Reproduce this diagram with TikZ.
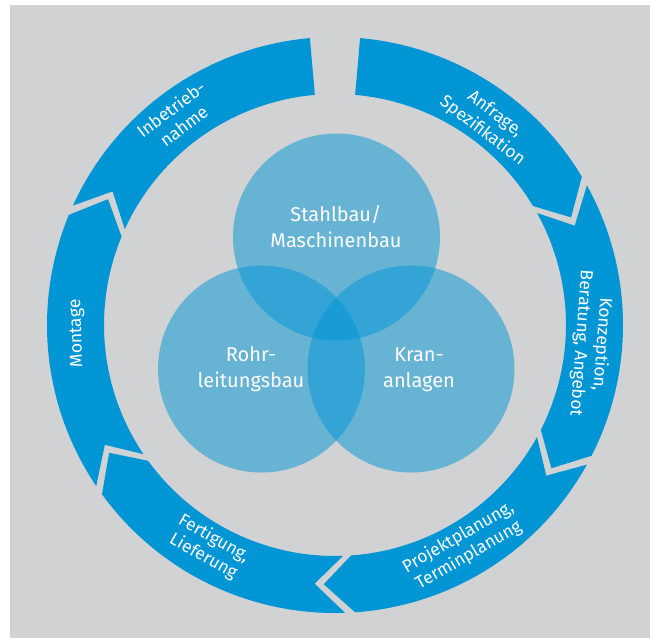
\documentclass[tikz,border=0pt]{standalone}
\usepackage{fontspec}
\setmainfont{Fira Sans}
\definecolor{ringblue}{RGB}{0,150,214}
\definecolor{bggray}{RGB}{208,210,211}

\begin{document}
\begin{tikzpicture}[
  seg/.style={fill=ringblue},
  field/.style={fill=ringblue, fill opacity=.5},
  ringlabel/.style={text=white, align=center, font=\fontsize{17.5}{21}\selectfont},
  fieldlabel/.style={text=white, align=center, font=\fontsize{20}{26}\selectfont}]
\useasboundingbox (-335pt,-313pt) rectangle (315pt,325pt);
\fill[bggray] (-325pt,-313pt) rectangle (315pt,320pt);
% ring, clockwise from the top
\fill[seg] (85:288pt) arc[start angle=85, end angle=31, radius=288pt] -- (24.5:259.5pt) -- (31:231pt) arc[start angle=31, end angle=85, radius=231pt] -- cycle;
\fill[seg] (29:288pt) arc[start angle=29, end angle=-27, radius=288pt] -- (-33.5:259.5pt) -- (-27:231pt) arc[start angle=-27, end angle=29, radius=231pt] -- (22.5:259.5pt) -- cycle;
\fill[seg] (-29:288pt) arc[start angle=-29, end angle=-86, radius=288pt] -- (-92.5:259.5pt) -- (-86:231pt) arc[start angle=-86, end angle=-29, radius=231pt] -- (-35.5:259.5pt) -- cycle;
\fill[seg] (-88:288pt) arc[start angle=-88, end angle=-144, radius=288pt] -- (-150.5:259.5pt) -- (-144:231pt) arc[start angle=-144, end angle=-88, radius=231pt] -- (-94.5:259.5pt) -- cycle;
\fill[seg] (-146:288pt) arc[start angle=-146, end angle=-202.5, radius=288pt] -- (-209:259.5pt) -- (-202.5:231pt) arc[start angle=-202.5, end angle=-146, radius=231pt] -- (-152.5:259.5pt) -- cycle;
\fill[seg] (-204.5:288pt) arc[start angle=-204.5, end angle=-265, radius=288pt] -- (-265:231pt) arc[start angle=-265, end angle=-204.5, radius=231pt] -- (-211:259.5pt) -- cycle;
% the three fields
\fill[field] (1.5pt,88pt) circle[radius=103.5pt];
\fill[field] (-73.5pt,-44pt) circle[radius=103.5pt];
\fill[field] (76pt,-44pt) circle[radius=103.5pt];
\node[fieldlabel] (stahl) at (1pt,98pt) {Stahlbau/\\Maschinenbau};
\node[fieldlabel] (rohr) at (-84pt,-44.5pt) {Rohr-\\leitungsbau};
\node[fieldlabel] (kran) at (84pt,-44.5pt) {Kran-\\anlagen};
% step labels
\node[ringlabel, rotate=-37.2] (anfrage) at (52.8:254pt) {Anfrage,\\Spezifikation};
\node[ringlabel, rotate=-94.2] (konzept) at (-4.2:257pt) {Konzeption,\\Beratung, Angebot};
\node[ringlabel, rotate=30.1] (planung) at (-59.9:256pt) {Projektplanung,\\Terminplanung};
\node[ringlabel, rotate=-29.6] (fertigung) at (-119.6:256pt) {Fertigung,\\Lieferung};
\node[ringlabel, rotate=91.9] (montage) at (181.9:258pt) {Montage};
\node[ringlabel, rotate=37.2] (betrieb) at (127.2:261pt) {Inbetrieb-\\nahme};
\end{tikzpicture}
\end{document}
